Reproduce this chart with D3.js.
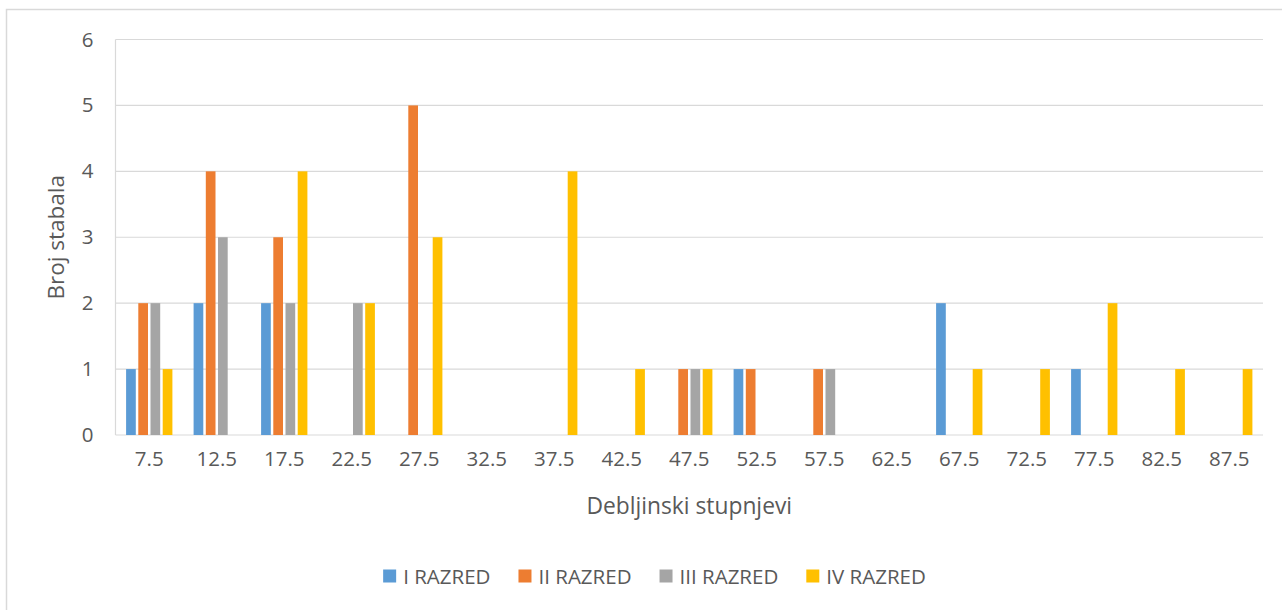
<!DOCTYPE html>
<html>
<head>
<meta charset="utf-8">
<script src="https://cdn.jsdelivr.net/npm/d3@7"></script>
<style>
  body { margin: 0; background: #fff; }
  text { font-family: "Open Sans", sans-serif; fill: #595959; }
</style>
</head>
<body>
<div id="chart"></div>
<script>
// diameter classes (cm) and tree counts per class
var categories = ["7.5", "12.5", "17.5", "22.5", "27.5", "32.5", "37.5", "42.5", "47.5",
    "52.5", "57.5", "62.5", "67.5", "72.5", "77.5", "82.5", "87.5"];
var seriesNames = ["I RAZRED", "II RAZRED", "III RAZRED", "IV RAZRED"];
var razred1 = [1, 2, 2, 0, 0, 0, 0, 0, 0, 1, 0, 0, 2, 0, 1, 0, 0];
var razred2 = [2, 4, 3, 0, 5, 0, 0, 0, 1, 1, 1, 0, 0, 0, 0, 0, 0];
var razred3 = [2, 3, 2, 2, 0, 0, 0, 0, 1, 0, 1, 0, 0, 0, 0, 0, 0];
var razred4 = [1, 0, 4, 2, 3, 0, 4, 1, 1, 0, 0, 0, 1, 1, 2, 1, 1];
var yTicks = [0, 1, 2, 3, 4, 5, 6];

var colors = ["#5B9BD5", "#ED7D31", "#A5A5A5", "#FFC000"];
var allSeries = [razred1, razred2, razred3, razred4];

var svgWidth = 1282;
var svgHeight = 610;

var plot = { left: 115.5, right: 1263, top: 39.5, bottom: 435 };

var svg = d3.select("#chart")
    .append("svg")
    .attr("width", svgWidth)
    .attr("height", svgHeight);

// chart area border
svg.append("rect")
    .attr("x", 6.5)
    .attr("y", 9.5)
    .attr("width", 1300)
    .attr("height", 620)
    .attr("fill", "none")
    .attr("stroke", "#d9d9d9")
    .attr("stroke-width", 1.5);

var xscale = d3.scaleBand()
    .domain(categories)
    .range([plot.left, plot.right])
    .padding(0);

var groupWidth = xscale.bandwidth() * 0.686;
var xinner = d3.scaleBand()
    .domain(d3.range(seriesNames.length))
    .range([0, groupWidth])
    .paddingInner(0.205);

var yscale = d3.scaleLinear()
    .domain([0, 6])
    .range([plot.bottom, plot.top]);

// gridlines
svg.append("g")
    .selectAll("line")
    .data(yTicks)
    .enter()
    .append("line")
    .attr("x1", plot.left)
    .attr("x2", plot.right)
    .attr("y1", d => yscale(d))
    .attr("y2", d => yscale(d))
    .attr("stroke", "#d9d9d9")
    .attr("stroke-width", 1.2);

// left axis line
svg.append("line")
    .attr("x1", plot.left)
    .attr("x2", plot.left)
    .attr("y1", yscale(6))
    .attr("y2", yscale(0))
    .attr("stroke", "#d9d9d9")
    .attr("stroke-width", 1.2);

// bars
var bars = [];
allSeries.forEach(function (vals, s) {
    vals.forEach(function (v, i) {
        if (v > 0) bars.push({ cat: categories[i], s: s, value: v });
    });
});

svg.append("g")
    .selectAll("rect")
    .data(bars)
    .enter()
    .append("rect")
    .attr("x", d => xscale(d.cat) + (xscale.bandwidth() - groupWidth) / 2 + xinner(d.s))
    .attr("y", d => yscale(d.value))
    .attr("width", xinner.bandwidth())
    .attr("height", d => yscale(0) - yscale(d.value))
    .attr("fill", d => colors[d.s]);

// y axis labels
var yAxis = d3.axisLeft(yscale).tickValues(yTicks).tickFormat(d3.format("d"))
    .tickSize(0).tickPadding(22);
var yG = svg.append("g")
    .attr("transform", `translate(${plot.left}, 0)`)
    .call(yAxis);
yG.select(".domain").remove();
yG.selectAll("text")
    .style("font-size", "20.5px")
    .style("font-family", "'Open Sans', sans-serif")
    .attr("fill", "#595959");

// x axis labels
var xAxis = d3.axisBottom(xscale).tickSize(0).tickPadding(16);
var xG = svg.append("g")
    .attr("transform", `translate(0, ${plot.bottom})`)
    .call(xAxis);
xG.select(".domain").remove();
xG.selectAll("text")
    .style("font-size", "20.5px")
    .style("font-family", "'Open Sans', sans-serif")
    .attr("fill", "#595959");

// axis titles
svg.append("text")
    .attr("transform", "rotate(-90)")
    .attr("x", -(plot.top + plot.bottom) / 2)
    .attr("y", 64)
    .attr("text-anchor", "middle")
    .style("font-size", "22.5px")
    .text("Broj stabala");

svg.append("text")
    .attr("x", (plot.left + plot.right) / 2)
    .attr("y", 514)
    .attr("text-anchor", "middle")
    .style("font-size", "22.8px")
    .text("Debljinski stupnjevi");

// legend
var legend = svg.append("g");
var items = legend.selectAll("g")
    .data(seriesNames)
    .enter()
    .append("g");

items.append("rect")
    .attr("width", 13)
    .attr("height", 13)
    .attr("y", 569.5)
    .attr("fill", (d, i) => colors[i]);

items.append("text")
    .attr("x", 20)
    .attr("y", 584)
    .style("font-size", "20.5px")
    .text(d => d);

var offs = [];
var cursor = 0;
items.each(function (d, i) {
    var w = d3.select(this).select("text").node().getComputedTextLength();
    offs.push(cursor);
    cursor += 20 + w + (i < seriesNames.length - 1 ? 28 : 0);
});
var startX = 654.5 - cursor / 2;
items.attr("transform", (d, i) => `translate(${startX + offs[i]}, 0)`);
</script>
</body>
</html>
